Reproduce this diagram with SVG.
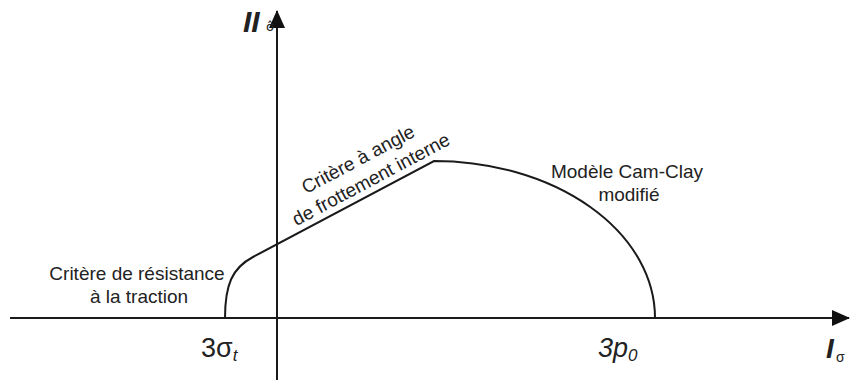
<svg xmlns="http://www.w3.org/2000/svg" width="850" height="388" viewBox="0 0 850 388">
<defs>
<style>
.ax{stroke:#1a1a1a;stroke-width:2;fill:none}
.cv{stroke:#1a1a1a;stroke-width:2;fill:none}
.lb{font-family:"Liberation Sans",Arial,sans-serif;font-size:19px;fill:#222}
.mt{font-family:"Liberation Sans",Arial,sans-serif;fill:#222}
</style>
<marker id="ah" viewBox="0 0 18 16" refX="17" refY="8" markerWidth="18" markerHeight="16" markerUnits="userSpaceOnUse" orient="auto">
<path d="M0,0 L18,8 L0,16 Z" fill="#111"/>
</marker>
</defs>
<rect width="850" height="388" fill="#fff"/>
<g id="axes">
<line class="ax" x1="10" y1="318" x2="849" y2="318" marker-end="url(#ah)"/>
<line class="ax" x1="277" y1="380" x2="277" y2="11" marker-end="url(#ah)"/>
</g>
<g id="connectors">
<path class="cv" d="M225,318 C225,285 232,268 253,257 L434,161 A221,157 0 0 1 655,318"/>
</g>
<g id="label-traction">
<text class="lb" text-anchor="middle" x="137" y="280">Critère de résistance</text>
<text class="lb" text-anchor="middle" x="139" y="303">à la traction</text>
</g>
<g id="label-frottement">
<text class="lb" text-anchor="middle" transform="translate(361,165) rotate(-28)">Critère à angle</text>
<text class="lb" text-anchor="middle" transform="translate(374,185) rotate(-28)">de frottement interne</text>
</g>
<g id="label-camclay">
<text class="lb" text-anchor="middle" x="627" y="178">Modèle Cam-Clay</text>
<text class="lb" text-anchor="middle" x="629" y="201">modifié</text>
</g>
<g id="label-3st">
<text class="mt" x="201" y="357" font-size="27">3σ<tspan font-size="17" font-style="italic" dy="4">t</tspan></text>
</g>
<g id="label-3p0">
<text class="mt" x="598" y="357" font-size="27" font-style="italic">3p<tspan font-size="17" dy="4">0</tspan></text>
</g>
<g id="label-II">
<text class="mt" x="243" y="32" font-size="30" font-style="italic" font-weight="bold">II</text>
<text x="266" y="31" font-size="13" font-family="DejaVu Sans,sans-serif" fill="#222">σ̂</text>
</g>
<g id="label-I">
<text class="mt" x="826" y="358" font-size="28" font-style="italic" font-weight="bold">I</text>
<text class="mt" x="836" y="362" font-size="14">σ</text>
</g>
</svg>
